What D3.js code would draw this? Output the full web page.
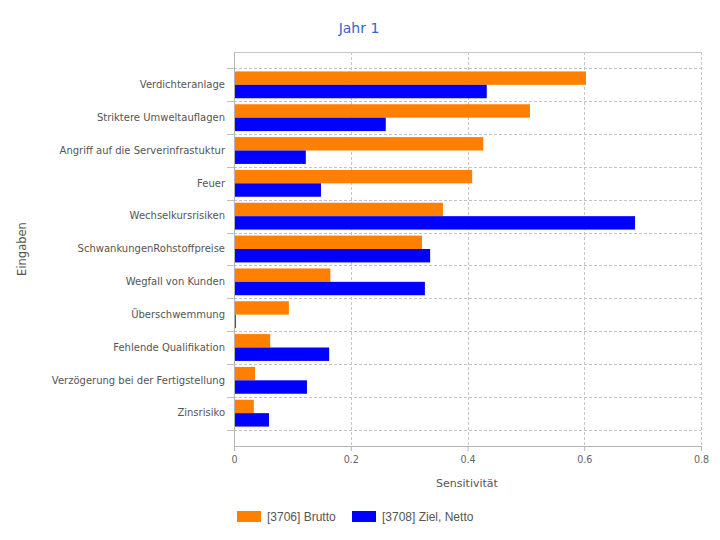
<!DOCTYPE html>
<html>
<head>
<meta charset="utf-8">
<script src="https://cdn.jsdelivr.net/npm/d3@7"></script>
<style>
  body { margin: 0; background: #fff; }
  .cat text { font-family: "DejaVu Sans", Verdana, sans-serif; font-size: 10px; fill: #555; }
  .xax text { font-family: "DejaVu Sans", Verdana, sans-serif; font-size: 9.6px; fill: #666; }
</style>
</head>
<body>
<div id="chart"></div>
<script>
const categories = [
  "Verdichteranlage", "Striktere Umweltauflagen", "Angriff auf die Serverinfrastuktur",
  "Feuer", "Wechselkursrisiken", "SchwankungenRohstoffpreise", "Wegfall von Kunden",
  "Überschwemmung", "Fehlende Qualifikation", "Verzögerung bei der Fertigstellung", "Zinsrisiko"
];
const brutto = [0.603, 0.507, 0.427, 0.408, 0.358, 0.322, 0.165, 0.094, 0.062, 0.036, 0.034];
const netto  = [0.433, 0.260, 0.123, 0.149, 0.687, 0.336, 0.327, 0.003, 0.163, 0.125, 0.060];
const seriesNames = ["[3706] Brutto", "[3708] Ziel, Netto"];
const colors = ["#ff8000", "#0000ff"];
const xTicks = [0, 0.2, 0.4, 0.6, 0.8];

const w = 720, h = 540;
const pLeft = 234, pRight = 701, pTop = 52, pBottom = 446;

const svg = d3.select("#chart").append("svg")
  .attr("width", w).attr("height", h);

const xScale = d3.scaleLinear().domain([0, 0.8]).range([pLeft, pRight]);
const yScale = d3.scaleBand().domain(categories).range([pTop, pBottom])
  .paddingInner(0).paddingOuter(0.5);
const inner = d3.scaleBand().domain([0, 1]).range([3, yScale.bandwidth() - 3]);

// grid
const step = yScale.step();
svg.append("g").selectAll("line")
  .data(d3.range(categories.length + 1))
  .enter().append("line")
    .attr("x1", pLeft).attr("x2", pRight)
    .attr("y1", i => Math.round(yScale(categories[0]) + i * step) + 0.5)
    .attr("y2", i => Math.round(yScale(categories[0]) + i * step) + 0.5)
    .attr("stroke", "#c4c4c4").attr("stroke-dasharray", "3,2");
svg.append("g").selectAll("line")
  .data(xTicks.slice(1))
  .enter().append("line")
    .attr("x1", d => Math.round(xScale(d)) + 0.5).attr("x2", d => Math.round(xScale(d)) + 0.5)
    .attr("y1", pTop).attr("y2", pBottom)
    .attr("stroke", "#c4c4c4").attr("stroke-dasharray", "3,2");
svg.append("line")
  .attr("x1", pLeft).attr("x2", pRight).attr("y1", pTop + 0.5).attr("y2", pTop + 0.5)
  .attr("stroke", "#c8c8c8");

// bars
const groups = svg.append("g").selectAll("g")
  .data(categories)
  .enter().append("g")
    .attr("transform", d => `translate(0,${yScale(d)})`);
groups.selectAll("rect")
  .data((d, i) => [brutto[i], netto[i]])
  .enter().append("rect")
    .attr("x", xScale(0))
    .attr("y", (d, j) => inner(j))
    .attr("width", d => Math.max(1.5, xScale(d) - xScale(0)))
    .attr("height", inner.bandwidth())
    .attr("fill", (d, j) => colors[j]);

// y axis
const yAxis = d3.axisLeft(yScale).tickSize(0).tickPadding(9);
const yg = svg.append("g").attr("class", "cat")
  .attr("transform", `translate(${pLeft},0)`)
  .call(yAxis);
yg.select(".domain").remove();
svg.append("g").selectAll("line")
  .data(d3.range(categories.length + 1))
  .enter().append("line")
    .attr("x1", pLeft - 7).attr("x2", pLeft)
    .attr("y1", i => Math.round(yScale(categories[0]) + i * step) + 0.5)
    .attr("y2", i => Math.round(yScale(categories[0]) + i * step) + 0.5)
    .attr("stroke", "#c0c0c0");
svg.append("line")
  .attr("x1", pLeft + 0.5).attr("x2", pLeft + 0.5).attr("y1", pTop).attr("y2", pBottom + 4)
  .attr("stroke", "#b4b4b4");

// x axis
const xAxis = d3.axisBottom(xScale).tickValues(xTicks).tickSize(5).tickPadding(5)
  .tickFormat(d => d === 0 ? "0" : d3.format(".1f")(d));
const xg = svg.append("g").attr("class", "xax")
  .attr("transform", `translate(0,${pBottom})`)
  .call(xAxis);
xg.select(".domain").attr("stroke", "#b4b4b4");
xg.selectAll(".tick line").attr("stroke", "#b4b4b4");

// titles
svg.append("text")
  .attr("x", 359).attr("y", 33)
  .attr("text-anchor", "middle")
  .style("font-family", "'DejaVu Sans', Verdana, sans-serif")
  .style("font-size", "14px").attr("fill", "#3366cc")
  .text("Jahr 1");
svg.append("text")
  .attr("x", 467).attr("y", 487)
  .attr("text-anchor", "middle")
  .style("font-family", "'DejaVu Sans', Verdana, sans-serif")
  .style("font-size", "11px").attr("fill", "#555")
  .text("Sensitivität");
svg.append("text")
  .attr("transform", `translate(26,${(pTop + pBottom) / 2}) rotate(-90)`)
  .attr("text-anchor", "middle")
  .style("font-family", "'DejaVu Sans', Verdana, sans-serif")
  .style("font-size", "11.5px").attr("fill", "#555")
  .text("Eingaben");

// legend
const legX = [237, 352];
const leg = svg.append("g").selectAll("g")
  .data(seriesNames)
  .enter().append("g")
    .attr("transform", (d, i) => `translate(${legX[i]},511)`);
leg.append("rect").attr("width", 24).attr("height", 11)
  .attr("fill", (d, i) => colors[i]);
leg.append("text").attr("x", 30).attr("y", 10)
  .style("font-family", "'Liberation Sans', Arial, sans-serif")
  .style("font-size", "12px").attr("fill", "#555")
  .text(d => d);
</script>
</body>
</html>
